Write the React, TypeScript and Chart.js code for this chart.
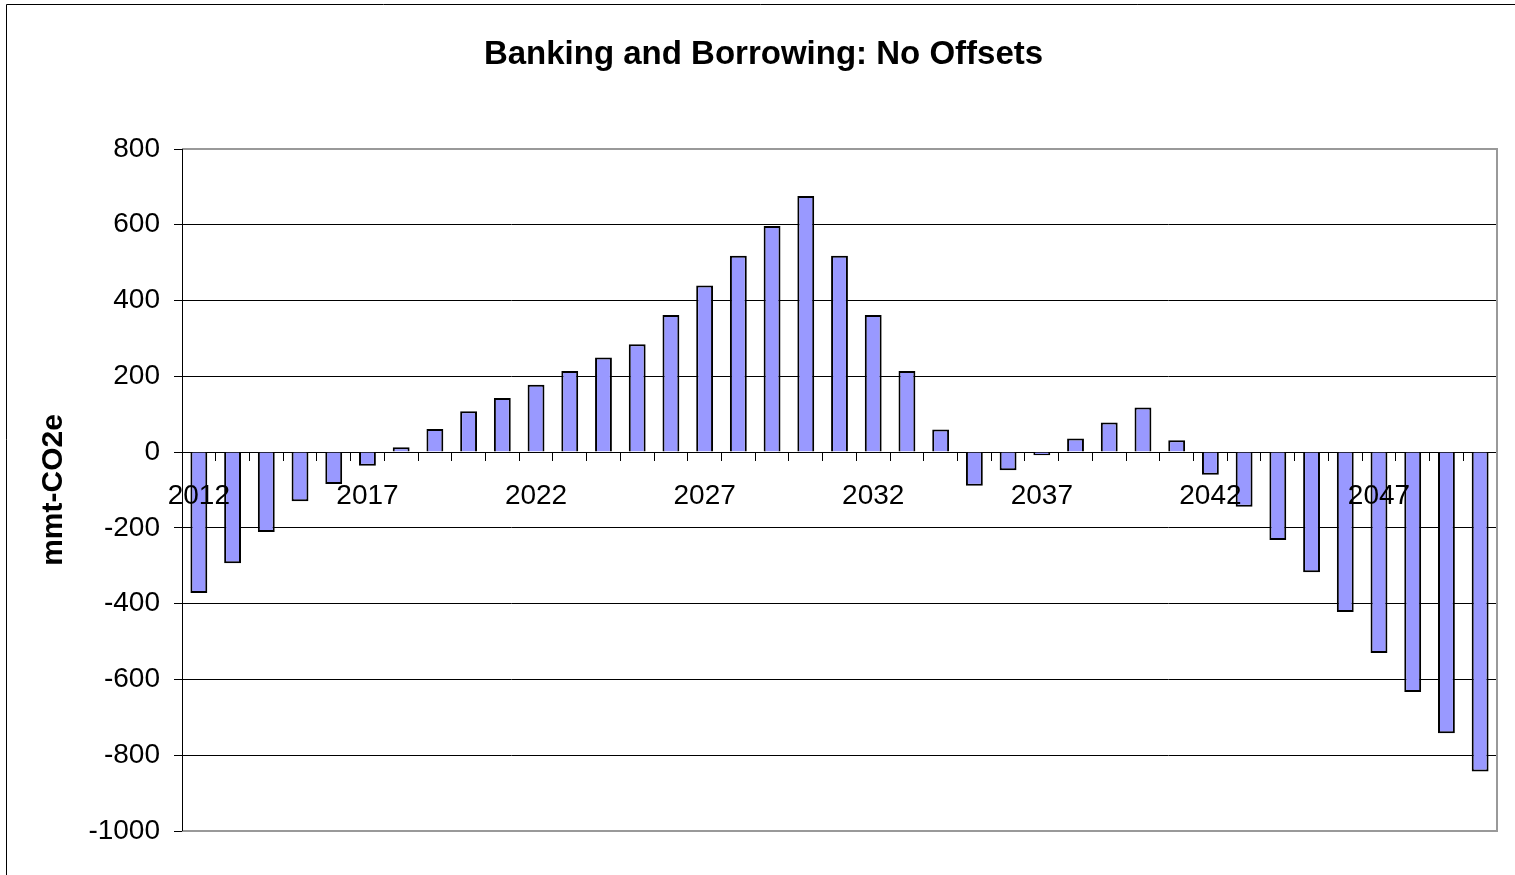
import React, { useEffect, useRef } from "react";
import { Chart, registerables } from "chart.js";

Chart.register(...registerables);

const years: string[] = [
  "2012", "2013", "2014", "2015", "2016", "2017", "2018", "2019", "2020", "2021",
  "2022", "2023", "2024", "2025", "2026", "2027", "2028", "2029", "2030", "2031",
  "2032", "2033", "2034", "2035", "2036", "2037", "2038", "2039", "2040", "2041",
  "2042", "2043", "2044", "2045", "2046", "2047", "2048", "2049", "2050",
];

const bankBorrow: number[] = [
  -372, -293, -211, -130, -84, -36, 13, 61, 108, 143,
  178, 214, 250, 285, 362, 440, 518, 597, 676, 518,
  362, 214, 60, -89, -48, -8, 36, 78, 118, 31,
  -60, -144, -232, -317, -422, -530, -633, -742, -843,
];

const yTicks = { min: -1000, max: 800, step: 200 };
const chartTitle = "Banking and Borrowing: No Offsets";
const yTitle = "mmt-CO2e";

const FONT = "'Liberation Sans', Arial, sans-serif";

const framePlugin = {
  id: "framePlugin",
  afterDraw(chart: any) {
    const { ctx, chartArea } = chart;
    ctx.save();
    // plot area border (gray) top, right, bottom
    ctx.strokeStyle = "#999999";
    ctx.lineWidth = 2;
    ctx.beginPath();
    ctx.moveTo(chartArea.left, chartArea.top);
    ctx.lineTo(chartArea.right, chartArea.top);
    ctx.lineTo(chartArea.right, chartArea.bottom);
    ctx.lineTo(chartArea.left, chartArea.bottom);
    ctx.stroke();
    // redraw y axis line on top
    ctx.strokeStyle = "#000";
    ctx.lineWidth = 1;
    ctx.beginPath();
    ctx.moveTo(Math.round(chartArea.left) + 0.5, chartArea.top);
    ctx.lineTo(Math.round(chartArea.left) + 0.5, chartArea.bottom);
    ctx.stroke();
    // outer frame
    ctx.beginPath();
    ctx.moveTo(6.5, chart.height);
    ctx.lineTo(6.5, 4.5);
    ctx.lineTo(chart.width, 4.5);
    ctx.stroke();
    ctx.restore();
  },
};

export default function App() {
  const canvasRef = useRef<HTMLCanvasElement | null>(null);

  useEffect(() => {
    if (!canvasRef.current) return;
    const chart = new Chart(canvasRef.current, {
      type: "bar",
      data: {
        labels: years,
        datasets: [
          {
            label: "Banking and Borrowing",
            data: bankBorrow,
            backgroundColor: "#9999FF",
            borderColor: "#000000",
            borderWidth: 2,
            categoryPercentage: 1,
            barPercentage: 0.5,
          },
        ],
      },
      options: {
        animation: false,
        responsive: false,
        maintainAspectRatio: false,
        layout: { padding: { left: 30, right: 18, top: 0, bottom: 44 } },
        plugins: {
          legend: { display: false },
          tooltip: { enabled: false },
          title: {
            display: true,
            text: chartTitle,
            color: "#000",
            font: { family: FONT, size: 33, weight: "bold" },
            padding: { top: 35, bottom: 74.4 },
          },
        },
        scales: {
          x: {
            type: "category",
            position: { y: 0 } as any,
            offset: true,
            grid: {
              display: true,
              drawOnChartArea: false,
              drawTicks: true,
              tickLength: 8,
              tickColor: "#000",
              offset: true,
            },
            border: { display: true, color: "#000", width: 1 },
            ticks: {
              z: 1,
              autoSkip: false,
              maxRotation: 0,
              minRotation: 0,
              padding: 19,
              color: "#000",
              font: { family: FONT, size: 28 },
              callback: (_v: any, i: number) => (i % 5 === 0 ? years[i] : ""),
            },
            afterFit: (scale: any) => {
              scale.height = 0;
            },
          },
          y: {
            min: yTicks.min,
            max: yTicks.max,
            ticks: {
              stepSize: yTicks.step,
              padding: 14,
              color: "#000",
              font: { family: FONT, size: 28 },
              callback: (v: any) => String(v),
            },
            grid: {
              color: (ctx: any) =>
                ctx.tick && (ctx.tick.value === yTicks.max || ctx.tick.value === yTicks.min)
                  ? "rgba(0,0,0,0)"
                  : "#000",
              lineWidth: 1,
              tickLength: 8,
              tickColor: "#000",
            },
            border: { display: true, color: "#000", width: 1 },
            title: {
              display: true,
              text: yTitle,
              color: "#000",
              font: { family: FONT, size: 30, weight: "bold" },
              padding: { top: 6, bottom: 0 },
            },
            afterFit: (scale: any) => {
              scale.width = 152;
            },
          },
        },
      },
      plugins: [framePlugin],
    });
    return () => chart.destroy();
  }, []);

  return (
    <div style={{ position: "absolute", left: 0, top: 0, width: 1515, height: 875, background: "#fff" }}>
      <canvas ref={canvasRef} width={1515} height={875} style={{ width: 1515, height: 875, display: "block" }} />
    </div>
  );
}
